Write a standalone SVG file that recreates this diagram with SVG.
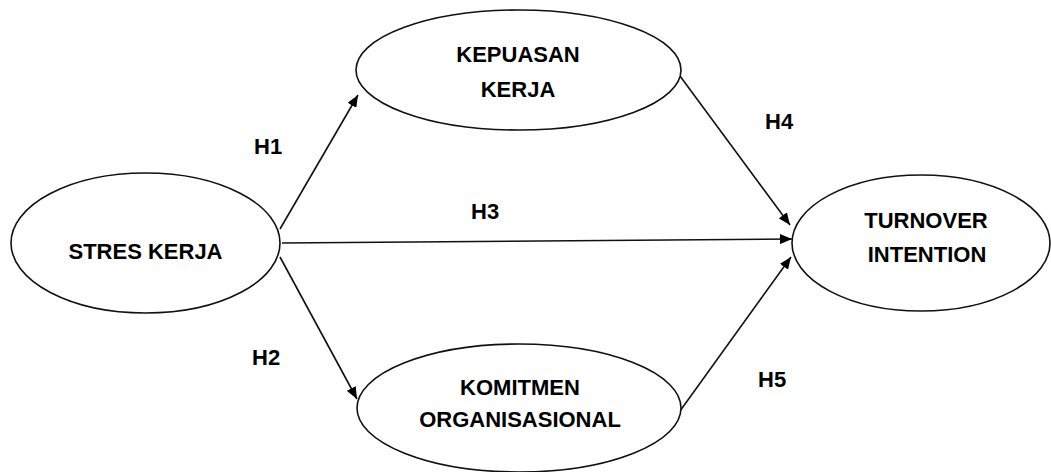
<svg xmlns="http://www.w3.org/2000/svg" width="1051" height="472" viewBox="0 0 1051 472">
<style>
.node ellipse{fill:#fff;stroke:#111;stroke-width:1.6}
.node text{font-family:"Liberation Sans",Arial,sans-serif;font-weight:bold;font-size:22px;fill:#000;text-anchor:middle}
.lbl{font-family:"Liberation Sans",Arial,sans-serif;font-weight:bold;font-size:22px;fill:#000}
.edge{stroke:#111;stroke-width:1.6;fill:none;marker-end:url(#arr)}
</style>
<defs>
<marker id="arr" viewBox="0 0 12 10" refX="12" refY="5" markerWidth="12" markerHeight="10" markerUnits="userSpaceOnUse" orient="auto">
<path d="M0,0 L12,5 L0,10 Z" fill="#000"/>
</marker>
</defs>
<rect width="1051" height="472" fill="#fff"/>
<g id="connectors">
<line class="edge" x1="280" y1="229" x2="358" y2="95"/>
<line class="edge" x1="282" y1="243" x2="792" y2="239"/>
<line class="edge" x1="280" y1="257" x2="357" y2="399"/>
<line class="edge" x1="680" y1="76" x2="790" y2="225"/>
<line class="edge" x1="680" y1="411" x2="791" y2="257"/>
</g>
<g id="labels">
<text class="lbl" x="254" y="154">H1</text>
<text class="lbl" x="252" y="365">H2</text>
<text class="lbl" x="471" y="219">H3</text>
<text class="lbl" x="765" y="129">H4</text>
<text class="lbl" x="758" y="387">H5</text>
</g>
<g id="stres-kerja" class="node">
<ellipse cx="145.5" cy="243" rx="134.5" ry="70"/>
<text x="145.5" y="259">STRES KERJA</text>
</g>
<g id="kepuasan-kerja" class="node">
<ellipse cx="518.5" cy="70" rx="162.5" ry="60"/>
<text x="518" y="62">KEPUASAN</text>
<text x="518" y="97">KERJA</text>
</g>
<g id="komitmen-organisasional" class="node">
<ellipse cx="519" cy="408" rx="162" ry="64"/>
<text x="520" y="395">KOMITMEN</text>
<text x="520" y="427">ORGANISASIONAL</text>
</g>
<g id="turnover-intention" class="node">
<ellipse cx="921" cy="243" rx="129" ry="68"/>
<text x="926" y="228">TURNOVER</text>
<text x="927" y="262">INTENTION</text>
</g>
</svg>
